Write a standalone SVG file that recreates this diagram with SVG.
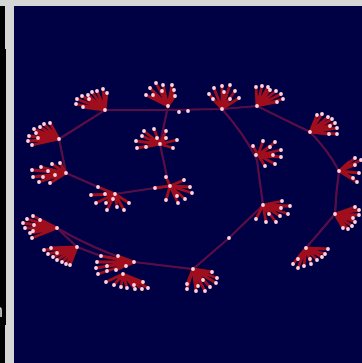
<svg xmlns="http://www.w3.org/2000/svg" width="362" height="363" viewBox="0 0 362 363">
<defs>
<filter id="b" x="-20%" y="-20%" width="140%" height="140%"><feGaussianBlur stdDeviation="0.7"/></filter>
<filter id="g" x="-20%" y="-20%" width="140%" height="140%"><feGaussianBlur stdDeviation="0.5"/></filter>
</defs>
<style>
.s{fill:none;stroke:#a00f1e;stroke-width:2.8;stroke-linecap:round;filter:url(#b)}
.d{fill:none;stroke:#ffd4de;stroke-width:3.8;stroke-linecap:round;filter:url(#g)}
.e{fill:none;stroke:#5a1044;stroke-width:2.2;filter:url(#b)}
</style>
<rect width="362" height="363" fill="#000044"/>
<rect x="0" y="0" width="14" height="363" fill="#d6d6d6"/>
<rect x="0" y="0" width="362" height="6" fill="#d6d6d6"/>
<rect x="0" y="6" width="5" height="43" fill="#000"/>
<rect x="0" y="49" width="6" height="276" fill="#000"/>
<rect x="0" y="325" width="5" height="38" fill="#000"/>
<text x="-7" y="317" font-family="Liberation Sans, sans-serif" font-size="18" fill="#d8d8d8" filter="url(#g)">n</text>
<g id="connectors">
<path class="e" d="M59 139L105 110L168 110L222 109L257 106L310 132Q328 150 339 171Q336 192 335 214L306 248"/>
<path class="e" d="M59 139L66 173L98 187M115 194L155 188M168 106L160 144L167 177"/>
<path class="e" d="M222 109Q245 135 257 160L263 205L229 238L193 269L134 262Q95 250 57 228L77 247L101 256"/>
</g>
<g id="n1"><path class="s" d="M105 110L77 99M105 110L76 104M105 110L83 107M105 110L82 96M105 110L88 95M105 110L92 92M105 110L97 91M105 110L103 89M105 110L107 93M105 110L89 99"/><path class="d" d="M105 110h0M77 99h0M76 104h0M83 107h0M82 96h0M88 95h0M92 92h0M97 91h0M103 89h0M107 93h0M89 99h0"/></g>
<g id="n2"><path class="s" d="M168 106L156 83M168 106L163 85M168 106L172 85M168 106L150 88M168 106L162 91M168 106L174 90M168 106L146 95M168 106L153 95M168 106L175 96"/><path class="d" d="M168 106h0M156 83h0M163 85h0M172 85h0M150 88h0M162 91h0M174 90h0M146 95h0M153 95h0M175 96h0M179 112h0M188 111h0"/></g>
<g id="n3"><path class="s" d="M59 139L50 123M59 139L44 124M59 139L40 127M59 139L34 129M59 139L36 133M59 139L29 136M59 139L38 138M59 139L28 141M59 139L32 145"/><path class="d" d="M59 139h0M50 123h0M44 124h0M40 127h0M34 129h0M36 133h0M29 136h0M38 138h0M28 141h0M32 145h0"/></g>
<g id="n4"><path class="s" d="M66 173L60 163M66 173L52 164M66 173L41 167M66 173L32 170M66 173L48 171M66 173L43 177M66 173L33 177M66 173L39 182M66 173L50 183M66 173L55 175"/><path class="d" d="M66 173h0M60 163h0M52 164h0M41 167h0M32 170h0M48 171h0M43 177h0M33 177h0M39 182h0M50 183h0M55 175h0"/></g>
<g id="n5"><path class="s" d="M160 144L154 129M160 144L166 131M160 144L144 131M160 144L142 136M160 144L166 138M160 144L177 140M160 144L136 141M160 144L137 148M160 144L146 147M160 144L173 148M160 144L157 138"/><path class="d" d="M160 144h0M154 129h0M166 131h0M144 131h0M142 136h0M166 138h0M177 140h0M136 141h0M137 148h0M146 147h0M173 148h0M157 138h0"/></g>
<g id="n6"><path class="s" d="M170 186L166 177M170 186L184 180M170 186L155 188M170 186L190 187M170 186L192 193M170 186L177 196M170 186L166 200M170 186L185 199M170 186L178 203"/><path class="d" d="M170 186h0M166 177h0M184 180h0M155 188h0M190 187h0M192 193h0M177 196h0M166 200h0M185 199h0M178 203h0"/></g>
<g id="n7"><path class="s" d="M115 194L98 187M115 194L91 195M115 194L105 194M115 194L96 203M115 194L106 203M115 194L117 207M115 194L107 210M115 194L124 210M115 194L129 203M115 194L113 199"/><path class="d" d="M115 194h0M98 187h0M91 195h0M105 194h0M96 203h0M106 203h0M117 207h0M107 210h0M124 210h0M129 203h0M113 199h0"/></g>
<g id="n8"><path class="s" d="M222 109L214 88M222 109L222 86M222 109L230 85M222 109L235 91M222 109L209 94M222 109L224 92M222 109L213 99M222 109L230 99M222 109L239 98"/><path class="d" d="M222 109h0M214 88h0M222 86h0M230 85h0M235 91h0M209 94h0M224 92h0M213 99h0M230 99h0M239 98h0"/></g>
<g id="n9"><path class="s" d="M257 106L256 87M257 106L262 86M257 106L268 87M257 106L276 91M257 106L281 94M257 106L283 99M257 106L277 102M257 106L270 90"/><path class="d" d="M257 106h0M256 87h0M262 86h0M268 87h0M276 91h0M281 94h0M283 99h0M277 102h0M270 90h0"/></g>
<g id="n10"><path class="s" d="M310 132L317 115M310 132L322 114M310 132L328 117M310 132L332 119M310 132L335 123M310 132L337 128M310 132L337 134M310 132L329 134M310 132L330 126"/><path class="d" d="M310 132h0M317 115h0M322 114h0M328 117h0M332 119h0M335 123h0M337 128h0M337 134h0M329 134h0M330 126h0"/></g>
<g id="n11"><path class="s" d="M339 171L355 158M339 171L361 160M339 171L349 162M339 171L355 165M339 171L359 173M339 171L353 178M339 171L357 182"/><path class="d" d="M339 171h0M355 158h0M361 160h0M355 165h0M359 173h0M353 178h0M357 182h0"/></g>
<g id="n12"><path class="s" d="M258 155L263 141M258 155L275 142M258 155L253 146M258 155L270 147M258 155L281 150M258 155L256 155M258 155L273 155M258 155L281 157M258 155L275 164M258 155L265 166"/><path class="d" d="M263 141h0M275 142h0M253 146h0M270 147h0M281 150h0M256 155h0M273 155h0M281 157h0M275 164h0M265 166h0"/></g>
<g id="n13"><path class="s" d="M263 205L282 201M263 205L290 206M263 205L281 208M263 205L269 214M263 205L280 216M263 205L288 214M263 205L256 219M263 205L266 222M263 205L276 222"/><path class="d" d="M263 205h0M282 201h0M290 206h0M281 208h0M269 214h0M280 216h0M288 214h0M256 219h0M266 222h0M276 222h0M229 238h0"/></g>
<g id="n14"><path class="s" d="M193 269L212 272M193 269L217 278M193 269L216 283M193 269L203 280M193 269L187 284M193 269L198 286M193 269L210 287M193 269L187 289M193 269L196 291M193 269L205 291"/><path class="d" d="M193 269h0M212 272h0M217 278h0M216 283h0M203 280h0M187 284h0M198 286h0M210 287h0M187 289h0M196 291h0M205 291h0"/></g>
<g id="n15"><path class="s" d="M335 214L355 207M335 214L359 210M335 214L359 215M335 214L353 218M335 214L348 219M335 214L355 222M335 214L352 226M335 214L348 229M335 214L343 228"/><path class="d" d="M335 214h0M355 207h0M359 210h0M359 215h0M353 218h0M355 222h0M352 226h0M348 229h0M343 228h0"/></g>
<g id="n16"><path class="s" d="M306 248L328 249M306 248L325 254M306 248L322 257M306 248L317 260M306 248L310 259M306 248L311 264M306 248L304 266M306 248L298 259M306 248L293 264M306 248L298 268"/><path class="d" d="M306 248h0M328 249h0M325 254h0M322 257h0M317 260h0M310 259h0M311 264h0M304 266h0M298 259h0M293 264h0M298 268h0"/></g>
<g id="n17"><path class="s" d="M57 228L33 216M57 228L40 220M57 228L27 219M57 228L23 223M57 228L34 225M57 228L25 228M57 228L30 233M57 228L33 231M57 228L32 238"/><path class="d" d="M57 228h0M33 216h0M40 220h0M27 219h0M23 223h0M34 225h0M25 228h0M30 233h0M33 231h0M32 238h0"/></g>
<g id="n18"><path class="s" d="M77 247L44 250M77 247L51 248M77 247L48 254M77 247L57 253M77 247L53 257M77 247L57 260M77 247L62 262M77 247L66 264M77 247L70 265"/><path class="d" d="M77 247h0M44 250h0M51 248h0M48 254h0M57 253h0M53 257h0M57 260h0M62 262h0M66 264h0M70 265h0"/></g>
<g id="n19"><path class="s" d="M134 262L101 256M134 262L118 256M134 262L97 262M134 262L107 266M134 262L126 266M134 262L96 268M134 262L107 271M134 262L116 270M134 262L98 274"/><path class="d" d="M134 262h0M101 256h0M118 256h0M97 262h0M107 266h0M126 266h0M96 268h0M107 271h0M116 270h0M98 274h0"/></g>
<g id="n20"><path class="s" d="M123 274L106 282M123 274L114 285M123 274L121 287M123 274L127 288M123 274L134 285M123 274L135 289M123 274L142 289M123 274L148 288M123 274L143 282"/><path class="d" d="M123 274h0M106 282h0M114 285h0M121 287h0M127 288h0M134 285h0M135 289h0M142 289h0M148 288h0M143 282h0"/></g>
</svg>
